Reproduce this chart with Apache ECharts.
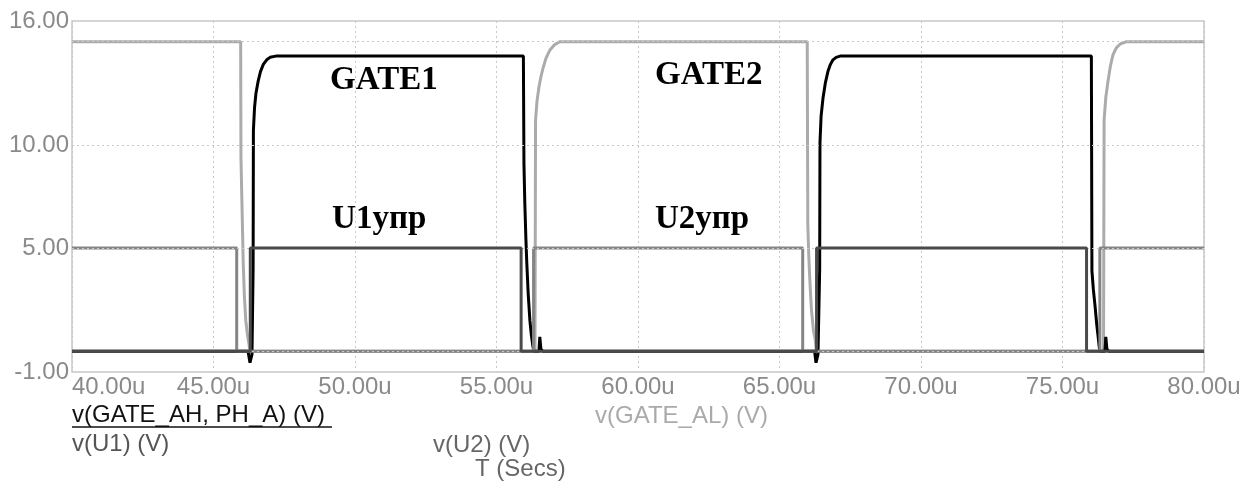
<!DOCTYPE html>
<html>
<head>
<meta charset="utf-8">
<script src="https://cdn.jsdelivr.net/npm/echarts@6/dist/echarts.min.js"></script>
<style>
html,body{margin:0;padding:0;background:#fff;}
#c{width:1252px;height:485px;}
</style>
</head>
<body>
<div id="c"></div>
<script>
// Axis ranges / ticks
const xTicks = [40, 45, 50, 55, 60, 65, 70, 75, 80];
const yLabelValues = [-1, 5, 10, 16];
const yGridValues = [0, 5, 10, 15];

// Series: [time (us), voltage (V)]
const gateAH = [
  [40,0],[46.22,0],[46.29,-0.55],[46.36,-0.15],[46.40,4.0],[46.41,10.7],[46.45,11.8],[46.50,12.5],[46.58,13.1],[46.66,13.55],[46.76,13.9],[46.88,14.12],[47.0,14.24],[47.2,14.3],
  [55.95,14.3],[55.97,9.1],[56.00,7.2],[56.04,5.4],[56.07,4.3],[56.12,2.8],[56.18,1.5],[56.23,0.8],[56.28,0.3],[56.32,0],[56.50,0],[56.53,0.7],[56.57,0.1],[56.65,0],
  [66.24,0],[66.29,-0.55],[66.36,-0.15],[66.42,4.0],[66.43,10.1],[66.47,11.4],[66.54,12.3],[66.62,13.0],[66.71,13.55],[66.80,13.9],[66.89,14.12],[67.0,14.24],[67.14,14.3],
  [76.02,14.3],[76.04,3.9],[76.09,3.0],[76.15,2.2],[76.21,1.3],[76.26,0.7],[76.30,0.2],[76.32,0],[76.50,0],[76.53,0.7],[76.57,0.1],[76.65,0],[80,0]
];
const gateAL = [
  [40,15],[45.96,15],[45.97,9.4],[46.00,7.5],[46.03,5.6],[46.05,4.3],[46.09,2.7],[46.14,1.5],[46.20,0.8],[46.26,0.3],[46.28,0],
  [56.36,0],[56.38,11.2],[56.43,12.1],[56.50,12.8],[56.57,13.3],[56.64,13.7],[56.75,14.2],[56.89,14.6],[57.05,14.85],[57.24,15],
  [65.98,15],[66.00,6.2],[66.03,4.8],[66.06,3.8],[66.10,2.7],[66.13,2.0],[66.20,1.0],[66.26,0.6],[66.30,0],
  [76.45,0],[76.47,11.2],[76.53,12.3],[76.61,13.1],[76.69,13.8],[76.78,14.35],[76.90,14.7],[77.05,14.9],[77.27,15],[80,15]
];
const u1 = [[40,0],[46.30,0],[46.30,5],[55.87,5],[55.87,0],[66.31,0],[66.31,5],[75.85,5],[75.85,0],[80,0]];
const u2 = [[40,5],[45.82,5],[45.82,0],[56.31,0],[56.31,5],[65.82,5],[65.82,0],[76.32,0],[76.32,5],[80,5]];

// Annotations: text, time, voltage (cap centre)
const annoText = ['GATE1', 'GATE2', 'U1упр', 'U2упр'];
const annoT = [49.12, 60.6, 49.19, 60.6];
const annoV = [13.13, 13.37, 6.38, 6.38];

// Legend / axis caption texts
const legendTexts = ['v(GATE_AH, PH_A) (V)', 'v(U1) (V)', 'v(U2) (V)', 'T (Secs)', 'v(GATE_AL) (V)'];

const chart = echarts.init(document.getElementById('c'), null, {renderer: 'canvas'});
const sans = 'Liberation Sans, Arial, sans-serif';
const gridCol = '#c8c8c8';

const option = {
  animation: false,
  backgroundColor: '#fff',
  grid: {left: 72, right: 48, top: 21, bottom: 113, show: true, borderColor: gridCol, borderWidth: 1.5, backgroundColor: 'transparent'},
  xAxis: {
    type: 'value', min: xTicks[0], max: xTicks[xTicks.length - 1], interval: 5,
    axisLine: {show: false}, axisTick: {show: false},
    axisLabel: {color: '#8a8a8a', fontSize: 24, fontFamily: sans, margin: 3, alignMinLabel: 'left',
      formatter: v => v.toFixed(2) + 'u'},
    splitLine: {show: true, lineStyle: {color: gridCol, type: [2, 3], width: 1}}
  },
  yAxis: {
    type: 'value', min: -1, max: 16, interval: 1,
    axisLine: {show: false}, axisTick: {show: false},
    axisLabel: {color: '#8a8a8a', fontSize: 24, fontFamily: sans, margin: 3,
      formatter: v => yLabelValues.indexOf(Math.round(v)) >= 0 ? v.toFixed(2) : ''},
    splitLine: {show: false}
  },
  series: [
    {type: 'line', data: [], z: 1, silent: true,
      markLine: {silent: true, symbol: 'none', label: {show: false},
        lineStyle: {color: gridCol, type: [2, 3], width: 1},
        data: yGridValues.map(v => ({yAxis: v}))}},
    {name: 'v(GATE_AL)', type: 'line', data: gateAL, showSymbol: false, z: 2,
      lineStyle: {color: '#ababab', width: 3}},
    {name: 'v(GATE_AH, PH_A)', type: 'line', data: gateAH, showSymbol: false, z: 3,
      lineStyle: {color: '#000', width: 3}},
    {name: 'v(U2)', type: 'line', data: u2, showSymbol: false, z: 4,
      lineStyle: {color: '#858585', width: 3}},
    {name: 'v(U1)', type: 'line', data: u1, showSymbol: false, z: 5,
      lineStyle: {color: '#4a4a4a', width: 3}}
  ]
};
chart.setOption(option);

const graphics = [];
annoText.forEach((t, i) => {
  const p = chart.convertToPixel({gridIndex: 0}, [annoT[i], annoV[i]]);
  graphics.push({type: 'text', x: p[0], y: p[1], z: 100,
    style: {text: t, fill: '#000', font: 'bold 33px "Liberation Serif", "Times New Roman", serif', align: 'left', verticalAlign: 'middle'}});
});
const legendStyle = [
  {x: 72, y: 415.5, c: '#111'},
  {x: 72, y: 444.5, c: '#555'},
  {x: 433, y: 445.5, c: '#666'},
  {x: 475, y: 469.5, c: '#666'},
  {x: 595, y: 416.5, c: '#aaa'}
];
legendTexts.forEach((t, i) => {
  const s = legendStyle[i];
  graphics.push({type: 'text', x: s.x, y: s.y, z: 100,
    style: {text: t, fill: s.c, font: '24px ' + sans, align: 'left', verticalAlign: 'middle'}});
});
graphics.push({type: 'line', z: 100, shape: {x1: 72, y1: 427, x2: 332, y2: 427}, style: {stroke: '#111', lineWidth: 1.5}});
chart.setOption({graphic: graphics});
</script>
</body>
</html>
